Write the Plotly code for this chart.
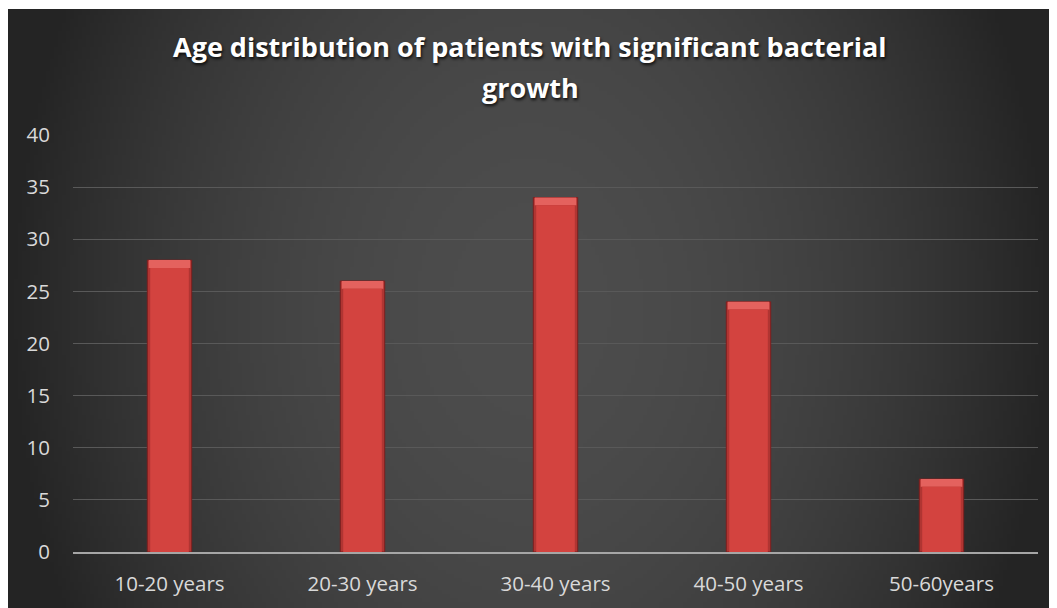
import base64
import struct
import zlib

import numpy as np
import plotly.graph_objects as go

# ---------------- data ----------------
categories = ["10-20 years", "20-30 years", "30-40 years", "40-50 years", "50-60years"]
patients = [28, 26, 34, 24, 7]
y_ticks = [0, 5, 10, 15, 20, 25, 30, 35, 40]
title_line1 = "Age distribution of patients with significant bacterial"
title_line2 = "growth"

# ---------------- geometry (page px; the page body has an 8px margin) ----------------
OFF = 8
FIG_W, FIG_H = 1057 - OFF, 608 - OFF
PLOT_L, PLOT_R, PLOT_T, PLOT_B = 73, 1038, 135, 552  # page px
M_L, M_R = PLOT_L - OFF, FIG_W - (PLOT_R - OFF)
M_T, M_B = PLOT_T - OFF, FIG_H - (PLOT_B - OFF)
PW = FIG_W - M_L - M_R
PH = FIG_H - M_T - M_B


def px_x(px):
    return (px - PLOT_L) / PW


def px_y(py):
    return (PLOT_B - py) / PH


# ---------------- background gradient image ----------------
def png_gray(arr):
    h, w = arr.shape
    raw = b"".join(b"\x00" + arr[r].astype(np.uint8).tobytes() for r in range(h))

    def chunk(tag, data):
        c = struct.pack(">I", len(data)) + tag + data
        return c + struct.pack(">I", zlib.crc32(tag + data) & 0xFFFFFFFF)

    sig = b"\x89PNG\r\n\x1a\n"
    ihdr = struct.pack(">IIBBBBB", w, h, 8, 0, 0, 0, 0)
    return sig + chunk(b"IHDR", ihdr) + chunk(b"IDAT", zlib.compress(raw, 9)) + chunk(b"IEND", b"")


BG_X0, BG_Y0 = 8, 9
bw, bh = 262, 150
xs = np.linspace(BG_X0, 1057, bw)
ys = np.linspace(BG_Y0, 608, bh)
X, Y = np.meshgrid(xs, ys)
r = np.sqrt(((X - 530) / 525) ** 2 + ((Y - 310) / 700) ** 2)
f = np.clip(r, 0, 1) ** 2.0
img = 77 - (77 - 36) * f
src = "data:image/png;base64," + base64.b64encode(png_gray(img)).decode()

# ---------------- figure ----------------
BEVEL = 0.75
cap_base = [v - BEVEL for v in patients]
cap_h = [BEVEL for _ in patients]
face = [v - BEVEL for v in patients]

fig = go.Figure()
# dark edge body
fig.add_trace(go.Bar(
    x=categories, y=patients, width=0.23,
    marker=dict(color="#b03532", line=dict(color="#7d1f1f", width=1)),
    hoverinfo="skip", showlegend=False,
))
# light top bevel
fig.add_trace(go.Bar(
    x=categories, y=cap_h, base=cap_base, width=0.215,
    marker=dict(color="#e4625e", line=dict(width=0)),
    hoverinfo="skip", showlegend=False,
))
# main face
fig.add_trace(go.Bar(
    x=categories, y=face, width=0.2,
    marker=dict(color="#d3433f", line=dict(width=0)),
    hoverinfo="skip", showlegend=False,
))

title_font = dict(family="Open Sans", size=27, color="white", weight="bold",
                  shadow="1px 2px 3px rgba(0,0,0,0.8)")

fig.update_layout(
    width=FIG_W, height=FIG_H,
    margin=dict(l=M_L, r=M_R, t=M_T, b=M_B, pad=0),
    paper_bgcolor="white",
    plot_bgcolor="rgba(0,0,0,0)",
    barmode="overlay",
    font=dict(family="Open Sans", color="#d9d9d9"),
    images=[dict(
        source=src, xref="paper", yref="paper",
        x=px_x(BG_X0), y=px_y(BG_Y0),
        sizex=px_x(1057) - px_x(BG_X0), sizey=px_y(BG_Y0) - px_y(608),
        xanchor="left", yanchor="top", sizing="stretch", layer="below",
    )],
    annotations=[
        dict(text=title_line1, xref="paper", yref="paper", x=px_x(530), y=px_y(47),
             xanchor="center", yanchor="middle", showarrow=False, font=title_font),
        dict(text=title_line2, xref="paper", yref="paper", x=px_x(530), y=px_y(87),
             xanchor="center", yanchor="middle", showarrow=False, font=title_font),
    ],
    xaxis=dict(
        showgrid=False, showline=True, linecolor="#a6a6a6", linewidth=2,
        tickfont=dict(size=20.5, color="#d9d9d9"), ticks="", ticklabelstandoff=12,
        fixedrange=True,
    ),
    yaxis=dict(
        range=[0, 40], tickvals=y_ticks, showgrid=True, gridcolor="#595959",
        gridwidth=1, zeroline=False, showline=False, ticks="",
        tickfont=dict(size=20.5, color="#d9d9d9"), ticklabelstandoff=22,
        fixedrange=True,
    ),
)

fig.write_html("out.html")
